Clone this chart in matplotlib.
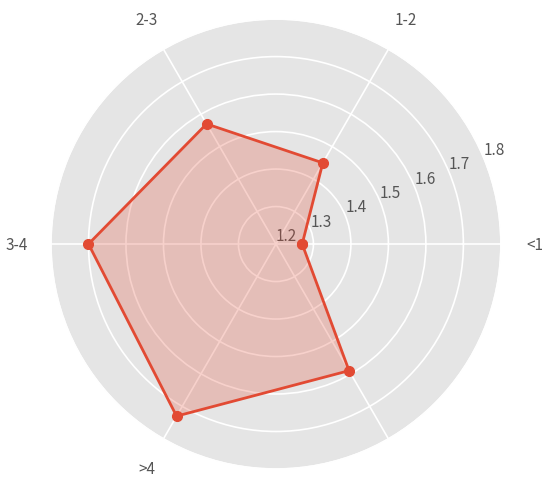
import numpy as np
import matplotlib
matplotlib.use("Agg")
import matplotlib.pyplot as plt

plt.style.use("ggplot")
plt.rcParams['font.family'] = ['Noto Sans CJK SC', 'DejaVu Sans']

# data
labels = ['<1', '1-2', '2-3', '3-4', '>4', '']
values = [1.27, 1.45, 1.57, 1.70, 1.73, 1.59]
r_ticks = [1.2, 1.3, 1.4, 1.5, 1.6, 1.7, 1.8]

angles = np.linspace(0, 2 * np.pi, len(labels), endpoint=False)
ang_closed = np.concatenate([angles, angles[:1]])
val_closed = np.concatenate([values, values[:1]])

fig = plt.figure(figsize=(5.5, 4.89), dpi=100)
ax = fig.add_axes([0.0927, 0.0389, 0.818, 0.920], polar=True)

ax.plot(ang_closed, val_closed, 'o-', color='#E24A33', linewidth=2, markersize=7)
ax.fill(ang_closed, val_closed, color='#E24A33', alpha=0.25)

ax.set_thetagrids(np.degrees(angles), labels)
ax.set_ylim(1.2, 1.8)
ax.set_yticks(r_ticks)
ax.set_yticklabels([f"{t:.1f}" for t in r_ticks])
ax.tick_params(axis='x', pad=14, labelsize=11, colors='#555555')
ax.tick_params(axis='y', labelsize=11, colors='#555555')
ax.grid(color='white', linewidth=1.2)

fig.savefig("out.png", dpi=100)
